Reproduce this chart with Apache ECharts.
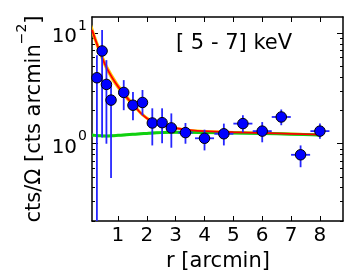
<!DOCTYPE html>
<html><head><meta charset="utf-8">
<script src="https://cdn.jsdelivr.net/npm/echarts@6/dist/echarts.min.js"></script>
<style>html,body{margin:0;padding:0;background:#fff}#c{width:361px;height:275px}</style>
</head><body><div id="c"></div>
<script>
// ---- data ----
const pointX   = [0.27, 0.45, 0.60, 0.76, 1.20, 1.52, 1.85, 2.19, 2.53, 2.85, 3.34, 4.00, 4.67, 5.33, 6.00, 6.66, 7.33, 8.00];
const pointY   = [3.95, 6.90, 3.44, 2.48, 2.91, 2.23, 2.36, 1.54, 1.55, 1.39, 1.26, 1.12, 1.23, 1.52, 1.30, 1.745, 0.794, 1.30];
const pointLo  = [0.10, 1.14, 1.00, 0.49, 2.01, 1.63, 1.81, 0.965, 1.01, 0.92, 1.00, 0.87, 0.965, 1.27, 1.03, 1.47, 0.613, 1.11];
const pointHi  = [6.30, 10.7, 5.70, 3.35, 3.76, 2.93, 3.06, 2.09, 2.09, 1.88, 1.54, 1.34, 1.52, 1.81, 1.57, 2.04, 0.965, 1.52];
const pointXErr= [0.08, 0.08, 0.08, 0.08, 0.16, 0.16, 0.16, 0.16, 0.16, 0.16, 0.25, 0.33, 0.33, 0.33, 0.33, 0.33, 0.33, 0.33];

const modelX   = [0.1, 0.2, 0.3, 0.4, 0.5, 0.6, 0.8, 1.0, 1.2, 1.4, 1.6, 1.8, 2.0, 2.2, 2.5, 2.8, 3.0, 3.5, 4.0, 5.0, 6.0, 7.0, 8.0];
const redModel = [10.7, 9.0, 7.6, 6.5, 5.6, 4.9, 3.95, 3.3, 2.82, 2.45, 2.15, 1.88, 1.70, 1.58, 1.48, 1.41, 1.38, 1.33, 1.30, 1.27, 1.25, 1.23, 1.21];
const redLo    = [9.6, 8.1, 6.85, 5.9, 5.1, 4.5, 3.65, 3.07, 2.64, 2.31, 2.04, 1.80, 1.64, 1.53, 1.44, 1.38, 1.35, 1.31, 1.28, 1.25, 1.23, 1.21, 1.19];
const redHi    = [12.0, 10.0, 8.4, 7.2, 6.2, 5.35, 4.3, 3.55, 3.02, 2.61, 2.27, 1.97, 1.77, 1.64, 1.53, 1.45, 1.42, 1.36, 1.33, 1.30, 1.28, 1.26, 1.24];
const greenModel = [1.20, 1.19, 1.18, 1.18, 1.175, 1.175, 1.18, 1.19, 1.20, 1.21, 1.22, 1.23, 1.24, 1.25, 1.26, 1.27, 1.27, 1.27, 1.26, 1.25, 1.24, 1.22, 1.20];
const greenLo  = [1.17, 1.16, 1.15, 1.15, 1.145, 1.145, 1.15, 1.16, 1.17, 1.18, 1.19, 1.20, 1.21, 1.22, 1.23, 1.24, 1.24, 1.24, 1.23, 1.22, 1.21, 1.19, 1.17];
const greenHi  = [1.23, 1.22, 1.21, 1.21, 1.205, 1.205, 1.21, 1.22, 1.23, 1.24, 1.25, 1.26, 1.27, 1.28, 1.29, 1.30, 1.30, 1.30, 1.29, 1.28, 1.27, 1.25, 1.23];

const xTickValues = [1, 2, 3, 4, 5, 6, 7, 8];
const yMajorValues = [1, 10];
const yMinorValues = [0.2, 0.3, 0.4, 0.5, 0.6, 0.7, 0.8, 0.9, 2, 3, 4, 5, 6, 7, 8, 9];
const bandText = '[ 5 - 7] keV';
const xTitle = 'r [arcmin]';

// ---- chart ----
const X_MIN = 0.1, X_MAX = 8.8, Y_MIN = 0.2, Y_MAX = 14;
const FONT = 'DejaVu Sans';
const chart = echarts.init(document.getElementById('c'), null, {renderer: 'canvas'});

function bandSeries(lo, hi, color, z) {
  return {
    type: 'custom', coordinateSystem: 'cartesian2d', clip: true, z: z, silent: true,
    data: modelX.map((x, i) => [x, lo[i], hi[i]]),
    renderItem: function (params, api) {
      if (params.dataIndex !== 0) return null;
      const pts = [];
      for (let i = 0; i < modelX.length; i++) pts.push(api.coord([modelX[i], hi[i]]));
      for (let i = modelX.length - 1; i >= 0; i--) pts.push(api.coord([modelX[i], lo[i]]));
      return {type: 'polygon', shape: {points: pts, smooth: 0}, style: {fill: color}};
    }
  };
}

const supRich = {
  b: {fontSize: 20, fontFamily: FONT, color: '#000', lineHeight: 28, verticalAlign: 'bottom'},
  s: {fontSize: 14, fontFamily: FONT, color: '#000', lineHeight: 28, verticalAlign: 'top', padding: [0, 0, 0, 1]}
};

function yAx(position, values, len, showLine, showLabel) {
  return {
    type: 'log', logBase: 10, min: Y_MIN, max: Y_MAX, position: position,
    axisLine: {show: showLine, onZero: false, lineStyle: {color: '#000', width: 1.5}},
    axisTick: {show: true, inside: true, length: len, customValues: values, lineStyle: {color: '#000', width: 1}},
    axisLabel: {show: showLabel, customValues: values, margin: 5,
      formatter: function (v) { return '{b|10}{s|' + Math.round(Math.log10(v)) + '}'; },
      rich: supRich},
    splitLine: {show: false}, minorTick: {show: false}
  };
}

chart.setOption({
  animation: false,
  backgroundColor: '#fff',
  grid: {left: 92, right: 18, top: 17, bottom: 54, containLabel: false},
  xAxis: [
    {type: 'value', min: X_MIN, max: X_MAX, position: 'bottom',
     axisLine: {show: true, onZero: false, lineStyle: {color: '#000', width: 1.5}},
     axisTick: {inside: true, length: 5, customValues: xTickValues, lineStyle: {color: '#000', width: 1}},
     axisLabel: {customValues: xTickValues, fontSize: 20, fontFamily: FONT, color: '#000', margin: 5},
     splitLine: {show: false}},
    {type: 'value', min: X_MIN, max: X_MAX, position: 'top',
     axisLine: {show: true, onZero: false, lineStyle: {color: '#000', width: 1.5}},
     axisTick: {inside: true, length: 5, customValues: xTickValues, lineStyle: {color: '#000', width: 1}},
     axisLabel: {show: false}, splitLine: {show: false}}
  ],
  yAxis: [
    yAx('left', yMajorValues, 6, true, true),
    yAx('right', yMajorValues, 6, true, false),
    yAx('left', yMinorValues, 3, false, false),
    yAx('right', yMinorValues, 3, false, false)
  ],
  graphic: [
    {type: 'text', left: 176, top: 33, z: 100,
     style: {text: bandText, fontSize: 21, fontFamily: FONT, fill: '#000'}},
    {type: 'text', x: 218, y: 262, z: 100,
     style: {text: xTitle, fontSize: 21, fontFamily: FONT, fill: '#000', align: 'center', verticalAlign: 'middle'}},
    {type: 'text', x: 30, y: 119, rotation: Math.PI / 2, z: 100,
     style: {text: '{a|cts/Ω [cts arcmin}{s|−2}{a|]}', align: 'center', verticalAlign: 'middle',
       rich: {a: {fontSize: 21, fontFamily: FONT, fill: '#000', color: '#000', lineHeight: 30, verticalAlign: 'bottom'},
              s: {fontSize: 14, fontFamily: FONT, fill: '#000', color: '#000', lineHeight: 30, verticalAlign: 'top'}}}}
  ],
  series: [
    bandSeries(redLo, redHi, '#FFC400', 2),
    bandSeries(greenLo, greenHi, '#66EE66', 3),
    {type: 'line', data: modelX.map((x, i) => [x, greenModel[i]]), showSymbol: false, smooth: 0.3,
     lineStyle: {color: '#10D010', width: 3}, z: 4, silent: true},
    {type: 'line', data: modelX.map((x, i) => [x, redModel[i]]), showSymbol: false, smooth: 0.3,
     lineStyle: {color: '#FF0000', width: 1.8}, z: 5, silent: true},
    {type: 'custom', coordinateSystem: 'cartesian2d', clip: true, z: 6, silent: true,
     data: pointX.map((x, i) => [x, pointY[i], pointLo[i], pointHi[i], pointXErr[i]]),
     renderItem: function (params, api) {
       const i = params.dataIndex;
       const top = api.coord([pointX[i], pointHi[i]]);
       const bot = api.coord([pointX[i], pointLo[i]]);
       const l = api.coord([pointX[i] - pointXErr[i], pointY[i]]);
       const r = api.coord([pointX[i] + pointXErr[i], pointY[i]]);
       const st = {stroke: '#2626FF', lineWidth: 1.8};
       return {type: 'group', children: [
         {type: 'line', shape: {x1: top[0], y1: top[1], x2: bot[0], y2: bot[1]}, style: st},
         {type: 'line', shape: {x1: l[0], y1: l[1], x2: r[0], y2: r[1]}, style: st}
       ]};
     }},
    {type: 'scatter', data: pointX.map((x, i) => [x, pointY[i]]), symbolSize: 10.5, z: 7,
     itemStyle: {color: '#0000FF', borderColor: '#000', borderWidth: 1, opacity: 1}}
  ]
});
</script></body></html>
